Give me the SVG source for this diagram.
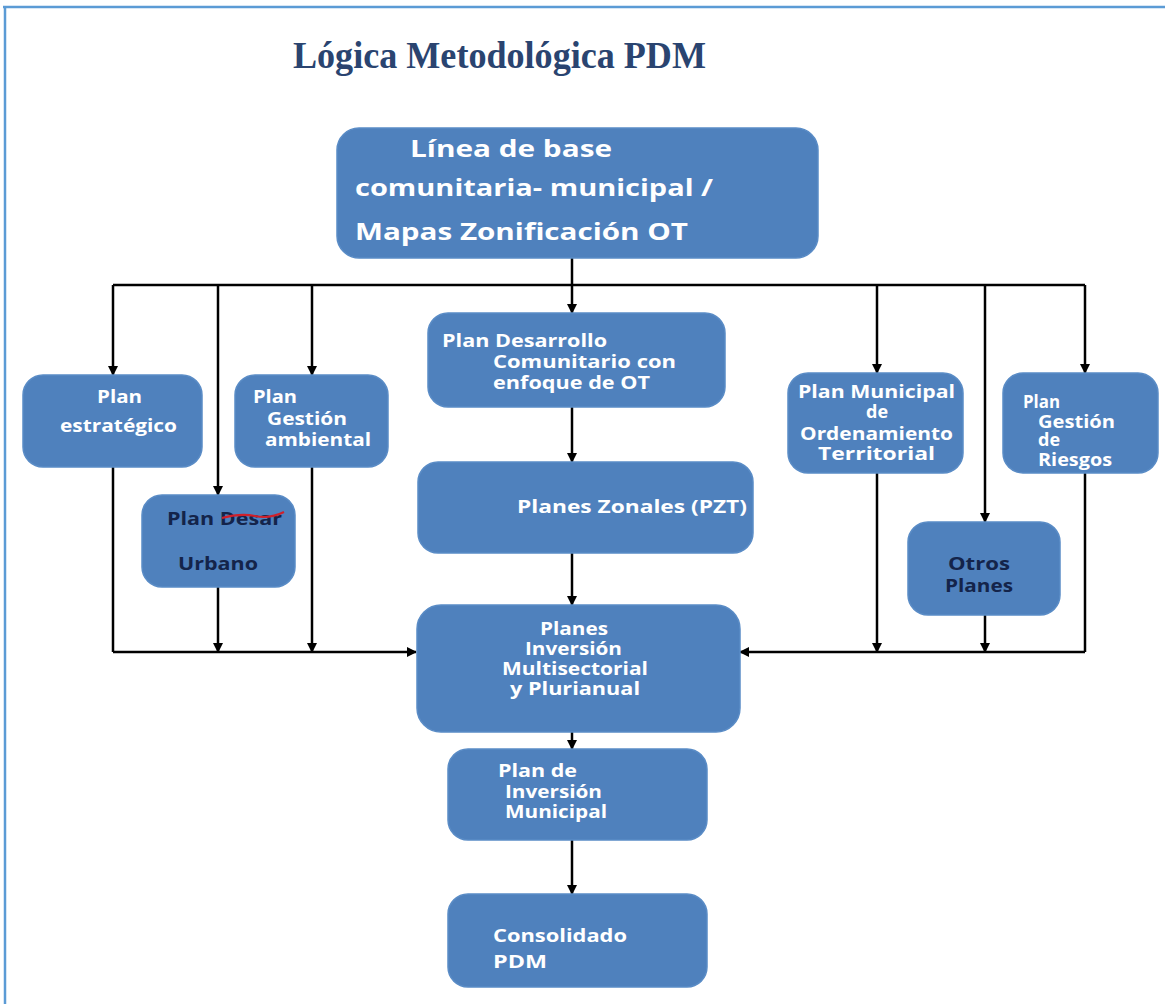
<svg xmlns="http://www.w3.org/2000/svg" width="1165" height="1004" viewBox="0 0 1165 1004">
<style>
.box{fill:#4f81bd;stroke:#5a8cc6;stroke-width:1.5}
.t{font-family:"Open Sans",Lato,"Liberation Sans",sans-serif;font-weight:bold;fill:#ffffff;font-size:18px}
.d{fill:#14244a}
.big{font-size:23px}
.c{fill:none;stroke:#000;stroke-width:2.5}
.a{fill:none;stroke:#000;stroke-width:2.5;marker-end:url(#ah)}
</style>
<defs>
<marker id="ah" viewBox="0 0 10 10" refX="9" refY="5" markerWidth="4" markerHeight="4" orient="auto" markerUnits="strokeWidth">
<path d="M0,0 L10,5 L0,10 z" fill="#000"/>
</marker>
</defs>
<rect width="1165" height="1004" fill="#ffffff"/>
<g id="frame">
<line x1="3" y1="7" x2="1165" y2="7" stroke="#5b9bd5" stroke-width="2.5"/>
<line x1="5" y1="6" x2="5" y2="1004" stroke="#5b9bd5" stroke-width="2.5"/>
</g>
<text id="title" x="293" y="68" font-family="'Liberation Serif',serif" font-weight="bold" font-size="38" fill="#2a4470" textLength="413" lengthAdjust="spacingAndGlyphs">Lógica Metodológica PDM</text>

<g id="connectors">
<path class="c" d="M572,258 V285"/>
<path class="c" d="M113,285 H1085"/>
<path class="a" d="M572,285 V313"/>
<path class="a" d="M113,285 V375"/>
<path class="a" d="M218,285 V495"/>
<path class="a" d="M312,285 V375"/>
<path class="a" d="M877,285 V373"/>
<path class="a" d="M985,285 V522"/>
<path class="a" d="M1085,285 V373"/>
<path class="a" d="M572,407 V462"/>
<path class="a" d="M572,553 V605"/>
<path class="a" d="M572,732 V749"/>
<path class="a" d="M572,840 V894"/>
<path class="c" d="M113,467 V652"/>
<path class="a" d="M218,587 V652"/>
<path class="a" d="M312,467 V652"/>
<path class="a" d="M113,652 H416"/>
<path class="a" d="M877,473 V652"/>
<path class="a" d="M985,615 V652"/>
<path class="c" d="M1085,473 V652"/>
<path class="a" d="M1085,652 H740"/>
</g>

<g id="n-linea">
<rect class="box" x="337" y="128" width="481" height="130" rx="22"/>
<text class="t big" x="410" y="157" textLength="202" lengthAdjust="spacingAndGlyphs">Línea de base</text>
<text class="t big" x="355" y="196" textLength="358" lengthAdjust="spacingAndGlyphs">comunitaria-  municipal /</text>
<text class="t big" x="355" y="240" textLength="333" lengthAdjust="spacingAndGlyphs">Mapas Zonificación OT</text>
</g>

<g id="n-estrategico">
<rect class="box" x="23" y="375" width="179" height="92" rx="20"/>
<text class="t" x="97" y="403" textLength="45" lengthAdjust="spacingAndGlyphs">Plan</text>
<text class="t" x="60" y="432" textLength="117" lengthAdjust="spacingAndGlyphs">estratégico</text>
</g>

<g id="n-ambiental">
<rect class="box" x="235" y="375" width="153" height="92" rx="20"/>
<text class="t" x="253" y="403" textLength="44" lengthAdjust="spacingAndGlyphs">Plan</text>
<text class="t" x="267" y="425" textLength="80" lengthAdjust="spacingAndGlyphs">Gestión</text>
<text class="t" x="265" y="446" textLength="106" lengthAdjust="spacingAndGlyphs">ambiental</text>
</g>

<g id="n-urbano">
<rect class="box" x="142" y="495" width="153" height="92" rx="20"/>
<text class="t d" x="167" y="525" textLength="115" lengthAdjust="spacingAndGlyphs">Plan Desar</text>
<path d="M222,518 Q240,513 255,516 T284,512" fill="none" stroke="#d0202a" stroke-width="2"/>
<text class="t d" x="178" y="570" textLength="80" lengthAdjust="spacingAndGlyphs">Urbano</text>
</g>

<g id="n-desarrollo">
<rect class="box" x="428" y="313" width="297" height="94" rx="20"/>
<text class="t" x="442" y="347" textLength="165" lengthAdjust="spacingAndGlyphs">Plan Desarrollo</text>
<text class="t" x="493" y="368" textLength="183" lengthAdjust="spacingAndGlyphs">Comunitario con</text>
<text class="t" x="493" y="389" textLength="157" lengthAdjust="spacingAndGlyphs">enfoque de OT</text>
</g>

<g id="n-zonales">
<rect class="box" x="418" y="462" width="335" height="91" rx="20"/>
<text class="t" x="517" y="513" font-size="20" textLength="230" lengthAdjust="spacingAndGlyphs">Planes Zonales (PZT)</text>
</g>

<g id="n-municipal-ot">
<rect class="box" x="788" y="373" width="175" height="100" rx="20"/>
<text class="t" x="798" y="398" textLength="157" lengthAdjust="spacingAndGlyphs">Plan Municipal</text>
<text class="t" x="877" y="418" text-anchor="middle">de</text>
<text class="t" x="800" y="440" textLength="153" lengthAdjust="spacingAndGlyphs">Ordenamiento</text>
<text class="t" x="818" y="460" textLength="117" lengthAdjust="spacingAndGlyphs">Territorial</text>
</g>

<g id="n-riesgos">
<rect class="box" x="1003" y="373" width="155" height="100" rx="20"/>
<text class="t" x="1023" y="408" textLength="37" lengthAdjust="spacingAndGlyphs">Plan</text>
<text class="t" x="1038" y="428" textLength="77" lengthAdjust="spacingAndGlyphs">Gestión</text>
<text class="t" x="1038" y="446">de</text>
<text class="t" x="1038" y="466" textLength="74" lengthAdjust="spacingAndGlyphs">Riesgos</text>
</g>

<g id="n-otros">
<rect class="box" x="908" y="522" width="152" height="93" rx="20"/>
<text class="t d" x="948" y="570" textLength="62" lengthAdjust="spacingAndGlyphs">Otros</text>
<text class="t d" x="945" y="592" textLength="68" lengthAdjust="spacingAndGlyphs">Planes</text>
</g>

<g id="n-inversion-multi">
<rect class="box" x="417" y="605" width="323" height="127" rx="24"/>
<text class="t" x="540" y="635" textLength="68" lengthAdjust="spacingAndGlyphs">Planes</text>
<text class="t" x="525" y="655" textLength="97" lengthAdjust="spacingAndGlyphs">Inversión</text>
<text class="t" x="502" y="675" textLength="146" lengthAdjust="spacingAndGlyphs">Multisectorial</text>
<text class="t" x="510" y="695" textLength="130" lengthAdjust="spacingAndGlyphs">y Plurianual</text>
</g>

<g id="n-inversion-municipal">
<rect class="box" x="448" y="749" width="259" height="91" rx="20"/>
<text class="t" x="498" y="777" textLength="79" lengthAdjust="spacingAndGlyphs">Plan de</text>
<text class="t" x="505" y="798" textLength="97" lengthAdjust="spacingAndGlyphs">Inversión</text>
<text class="t" x="505" y="818" textLength="102" lengthAdjust="spacingAndGlyphs">Municipal</text>
</g>

<g id="n-consolidado">
<rect class="box" x="448" y="894" width="259" height="93" rx="20"/>
<text class="t" x="493" y="942" textLength="134" lengthAdjust="spacingAndGlyphs">Consolidado</text>
<text class="t" x="493" y="968" textLength="54" lengthAdjust="spacingAndGlyphs">PDM</text>
</g>
</svg>
